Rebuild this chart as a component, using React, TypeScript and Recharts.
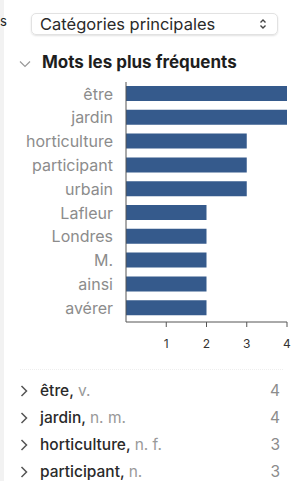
import { BarChart, Bar, XAxis, YAxis } from "recharts";

const words = ["être", "jardin", "horticulture", "participant", "urbain", "Lafleur", "Londres", "M.", "ainsi", "avérer"];
const counts = [4, 4, 3, 3, 3, 2, 2, 2, 2, 2];
const xTicks = [1, 2, 3, 4];

const listWords = ["être,", "jardin,", "horticulture,", "participant,"];
const listTags = ["v.", "n. m.", "n. f.", "n."];
const listCounts = [4, 4, 3, 3];

const data = words.map((word, i) => ({ word, count: counts[i] }));

const FONT = "Inter, 'Noto Sans', sans-serif";

export default function App() {
  return (
    <div style={{ position: "relative", width: 303, height: 481, background: "#fff", fontFamily: FONT, overflow: "hidden" }}>
      <style>{`body{margin:0}`}</style>
      <div style={{ position: "absolute", left: 0, top: 0, width: 4, height: 481, background: "#f2f2f2" }} />
      <div style={{ position: "absolute", left: 0, top: 13, fontSize: 13, color: "#222" }}>s</div>

      <div
        style={{
          position: "absolute", left: 31, top: 13, width: 247, height: 22, boxSizing: "border-box",
          border: "1px solid #e2e2e2", borderRadius: 5, boxShadow: "0 1px 2px rgba(0,0,0,0.12)",
          fontSize: 16.5, color: "#2a2a2a", lineHeight: "20px", paddingLeft: 8,
        }}
      >
        Catégories principales
        <svg width="8" height="12" style={{ position: "absolute", right: 10, top: 4 }}>
          <path d="M1.5 4.5 L4 2 L6.5 4.5 M1.5 7.5 L4 10 L6.5 7.5" fill="none" stroke="#444" strokeWidth="1.4" />
        </svg>
      </div>

      <svg width="12" height="8" style={{ position: "absolute", left: 19, top: 60 }}>
        <path d="M1 1.5 L6 6.5 L11 1.5" fill="none" stroke="#999" strokeWidth="1.2" />
      </svg>
      <div style={{ position: "absolute", left: 42, top: 52, fontSize: 17, fontWeight: 700, color: "#1e1e1e" }}>
        Mots les plus fréquents
      </div>

      <div style={{ position: "absolute", left: 0, top: 0 }}>
        <BarChart
          width={303}
          height={360}
          data={data}
          layout="vertical"
          margin={{ top: 82, right: 16, left: 0, bottom: 8 }}
        >
          <XAxis
            type="number"
            domain={[0, 4]}
            ticks={xTicks}
            height={30}
            tickSize={5}
            tickMargin={12}
            stroke="#555"
            tick={{ fill: "#333", fontSize: 12, fontFamily: FONT }}
          />
          <YAxis
            type="category"
            dataKey="word"
            width={126}
            tickLine={false}
            tickSize={0}
            tickMargin={13}
            padding={{ top: 0, bottom: 2 }}
            stroke="#555"
            tick={{ fill: "#8c8c8c", fontSize: 16, fontFamily: FONT }}
            interval={0}
          />
          <Bar dataKey="count" fill="#355a8c" barSize={15} isAnimationActive={false} />
        </BarChart>
      </div>

      <div style={{ position: "absolute", left: 20, right: 20, top: 369, borderTop: "1px dotted #eeeeee" }} />

      {listWords.map((w, i) => (
        <div
          key={w}
          style={{ position: "absolute", left: 20, width: 260, top: 381 + i * 27, height: 20, fontSize: 15.5, lineHeight: "20px" }}
        >
          <svg width="8" height="12" style={{ position: "absolute", left: 0, top: 4 }}>
            <path d="M1.5 1 L6.5 6 L1.5 11" fill="none" stroke="#555" strokeWidth="1.5" />
          </svg>
          <span style={{ position: "absolute", left: 20, color: "#2a2a2a", fontWeight: 500 }}>
            {w} <span style={{ color: "#999", fontWeight: 400 }}>{listTags[i]}</span>
          </span>
          <span style={{ position: "absolute", right: 0, color: "#8c8c8c" }}>{listCounts[i]}</span>
        </div>
      ))}
    </div>
  );
}
